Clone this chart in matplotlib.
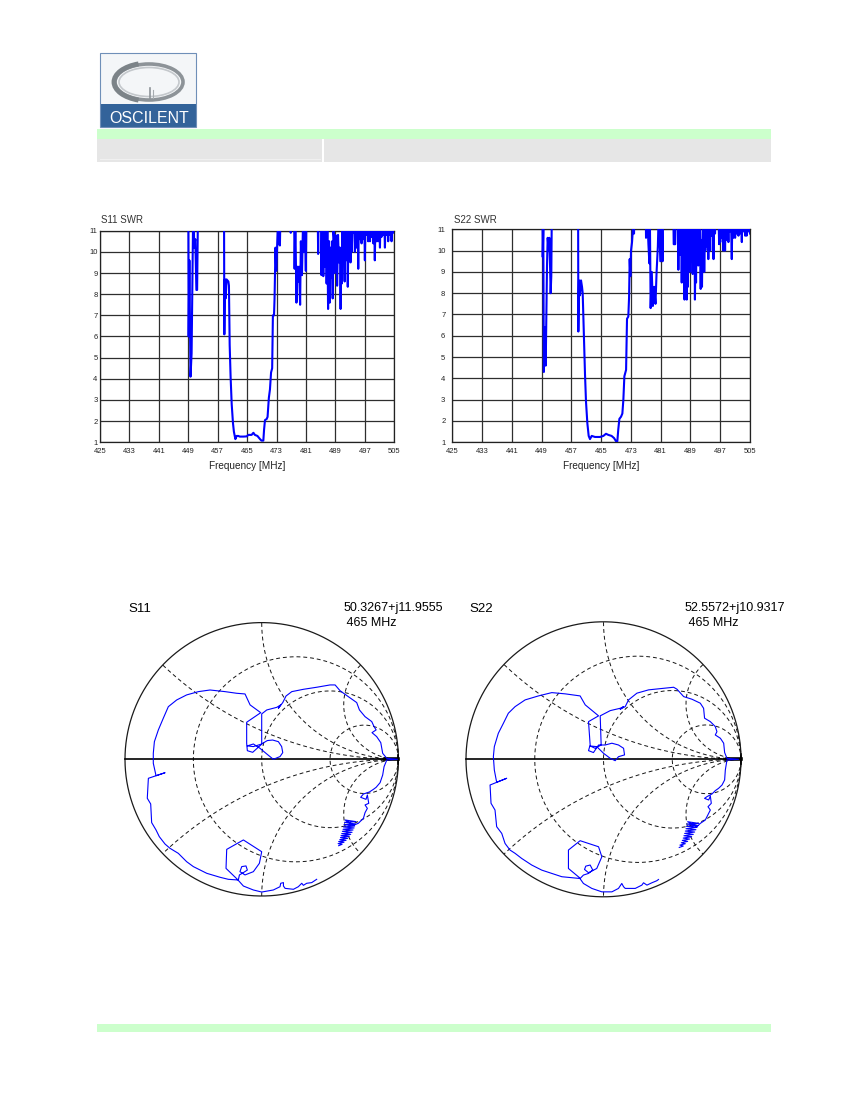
import numpy as np
import matplotlib
matplotlib.use('Agg')
import matplotlib.pyplot as plt
from matplotlib.patches import Rectangle, Ellipse, Arc
from matplotlib import font_manager

# ---------------- data ----------------
swr_xticks = [425, 433, 441, 449, 457, 465, 473, 481, 489, 497, 505]
swr_yticks = [1, 2, 3, 4, 5, 6, 7, 8, 9, 10, 11]

s11_freq = [425.0, 449.0, 449.1, 449.3, 449.6, 449.9, 450.1, 450.4, 450.6, 450.9, 451.2, 451.4, 451.7,
            458.7, 458.8, 458.95, 459.15, 459.4, 459.9, 460.05, 460.25, 460.5, 460.8, 461.15, 461.4,
            461.8, 462.15, 462.6, 463.0, 464.0, 464.9, 465.3, 466.2, 466.7, 467.1, 467.8, 468.5, 468.9,
            469.4, 469.6, 469.85, 470.3, 470.55, 470.9, 471.2, 471.5, 471.8, 472.0, 472.3, 472.45, 472.7,
            472.9, 473.1, 473.35, 473.6, 473.9, 474.2,
            476.7, 476.85, 477.0,
            477.7, 477.9, 478.1, 478.4, 478.6, 478.9, 479.1, 479.4, 479.6, 479.9, 480.2, 480.4, 480.6,
            480.95, 481.2,
            484.1, 484.3, 484.5,
            485.0, 485.2, 485.45, 485.7, 485.9, 486.1, 486.35, 486.6, 486.8, 487.0, 487.15, 487.3, 487.45,
            487.7, 487.95, 488.1, 488.25, 488.45, 488.6, 488.8, 489.0, 489.3, 489.45, 489.7, 489.95, 490.1,
            490.25, 490.4, 490.55, 490.7, 490.85, 490.95, 491.15, 491.3, 491.5, 491.7, 491.85, 492.05,
            492.2, 492.35, 492.55, 492.75, 492.95, 493.1, 493.3, 493.45, 493.65, 493.8, 494.0, 494.3,
            494.5, 494.75, 495.0, 495.2, 495.4, 495.65, 495.85, 496.1, 496.3, 496.55, 496.8, 497.0, 497.2,
            497.45, 497.7, 497.9, 498.1, 498.4, 498.6, 498.8, 499.05, 499.3, 499.5, 499.7, 499.95, 500.2,
            500.4, 500.6, 500.85, 501.1, 501.3, 501.5, 501.75, 502.0, 502.2, 502.45, 502.7, 502.9, 503.1,
            503.35, 503.55, 503.8, 504.05, 504.25, 504.5, 504.7, 505.0]
s11_swr = [13, 13, 6.0, 9.6, 4.1, 5.2, 8.5, 13, 10.2, 10.6, 8.2, 8.2, 13,
           13, 6.1, 8.7, 7.8, 8.7, 8.6, 8.4, 5.6, 4.1, 2.8, 1.9, 1.5,
           1.15, 1.3, 1.3, 1.27, 1.27, 1.28, 1.35, 1.35, 1.45, 1.35, 1.3, 1.15, 1.08,
           1.08, 1.6, 2.05, 2.1, 2.2, 3.1, 3.5, 4.3, 4.5, 7.0, 7.0, 7.8, 10.2,
           9.1, 10.1, 11.2, 10.4, 10.3, 13,
           13, 10.9, 13,
           13, 9.2, 11.5, 7.6, 9.3, 8.6, 9.3, 7.5, 10.5, 8.9, 11.5, 10.0, 12,
           9.1, 13,
           13, 9.9, 13,
           13, 8.9, 12, 8.85, 11, 9.3, 12, 8.5, 11, 7.3, 10.5, 10.5, 7.6,
           10.2, 8.8, 10.5, 7.8, 11, 10.7, 9.0, 10.8, 10.4, 8.4, 10.8, 9.5, 10.2,
           10.2, 7.3, 10.0, 8.5, 11, 9.6, 11, 10.0, 8.6, 11, 9.6, 12,
           11, 8.35, 11, 10.0, 12, 9.5, 11.5, 10.0, 12, 10.9, 12, 10.0,
           12, 10.2, 12, 9.2, 12, 10.6, 12, 10.4, 12, 10.6, 12, 9.6, 12,
           10.8, 12, 10.5, 12, 10.5, 12, 10.7, 12, 10.4, 12, 9.6, 12, 10.5,
           12, 10.5, 12, 10.2, 12, 10.7, 12, 10.8, 12, 10.2, 12, 10.8, 12,
           10.5, 12, 10.8, 12, 10.5, 12, 10.9, 12]

s22_freq = [425.0, 449.2, 449.3, 449.45, 449.6, 449.9, 450.1, 450.27, 450.45, 450.63, 450.9, 451.07,
            451.25, 451.43, 451.6, 451.8,
            458.8, 458.87, 459.05, 459.32, 459.59, 459.86, 460.04, 460.2, 460.4, 460.66, 460.93, 461.29,
            461.65, 462.0, 462.46, 463.35, 464.7, 465.6, 466.3, 466.9, 467.8, 468.46, 469.0, 469.35, 469.6,
            469.9, 470.34, 470.7, 470.97, 471.24, 471.7, 471.95, 472.3, 472.5, 472.67, 472.85, 473.03,
            473.3, 473.57, 473.84, 474.0,
            476.9, 477.06, 477.3, 477.7, 477.96, 478.1, 478.3, 478.6, 478.9, 479.25, 479.6, 479.9, 480.24,
            480.5, 480.9, 481.25, 481.5, 481.7,
            484.3, 484.5, 484.9, 485.1,
            485.5, 485.75, 486.0, 486.2, 486.45, 486.65, 486.9, 487.1, 487.25, 487.4, 487.5, 487.6, 487.8,
            488.0, 488.15, 488.3, 488.4, 488.5, 488.7, 488.9, 489.1, 489.25, 489.4, 489.6, 489.8, 489.96,
            490.1, 490.2, 490.35, 490.5, 490.65, 490.8, 490.95, 491.1, 491.25, 491.4, 491.55, 491.75,
            491.9, 492.1, 492.3, 492.5, 492.6, 492.7, 492.85, 493.0, 493.2, 493.4, 493.6, 493.8, 494.0,
            494.3, 494.5, 494.7, 494.95, 495.2, 495.4, 495.6, 495.85, 496.5, 496.7, 496.85, 497.0, 497.2,
            497.4, 497.6, 497.85, 498.05, 498.3, 498.5, 498.7, 498.95, 499.2, 499.4, 499.6, 499.85, 500.1,
            500.3, 500.5, 500.75, 501.0, 501.2, 501.4, 501.65, 501.9, 502.1, 502.3, 502.55, 502.8, 503.0,
            503.2, 503.45, 503.7, 503.9, 504.1, 504.35, 504.6, 504.8, 505.0]
s22_swr = [13, 13, 9.7, 11, 4.3, 6.4, 4.6, 7.0, 9.3, 10.6, 10.0, 10.6,
           9.4, 8.0, 8.8, 13,
           13, 6.2, 8.6, 7.9, 8.6, 8.3, 8.0, 7.0, 5.7, 4.2, 2.9, 1.9,
           1.3, 1.15, 1.3, 1.25, 1.25, 1.3, 1.4, 1.35, 1.3, 1.2, 1.05, 1.05, 1.6,
           2.1, 2.2, 2.35, 3.0, 4.1, 4.4, 6.8, 6.9, 7.8, 9.6, 8.8, 10.0,
           10.4, 11.1, 10.8, 13,
           13, 10.6, 12, 10.3, 9.4, 11.5, 7.3, 9.0, 7.4, 8.3, 7.5, 9.0, 10.2,
           12, 9.5, 12, 9.5, 13,
           13, 10.3, 10.3, 13,
           13, 9.1, 12, 9.8, 12, 8.5, 12, 10.0, 11, 7.7, 10.5, 9.7, 11,
           7.7, 10.0, 8.3, 11, 10.2, 11, 9.0, 11, 9.6, 11, 8.9, 11, 9.6,
           11, 7.7, 10.0, 8.5, 11, 9.9, 11, 9.3, 11, 10.3, 11, 8.2,
           10.5, 8.3, 11.5, 10.2, 11, 9.0, 11, 10.0, 12, 10.2, 12, 9.6, 12,
           10.0, 12, 10.7, 12, 9.6, 12, 10.8, 12, 12, 10.3, 12, 10.4, 12,
           10.6, 12, 10.0, 12, 10.0, 12, 10.5, 12, 10.4, 12, 10.9, 12, 9.6,
           12, 10.6, 12, 10.6, 12, 10.8, 12, 10.7, 12, 10.8, 12, 10.4, 12,
           10.9, 12, 10.7, 12, 10.7, 12, 10.9, 12, 10.8]

# reflection coefficient traces (real / imaginary part of Gamma)
s11_re = [0.402, 0.366, 0.329, 0.305, 0.293, 0.268, 0.232, 0.171, 0.159, 0.159,
          0.139, 0.134, 0.085, 0.0, -0.061, -0.134, -0.178, -0.261, -0.256, -0.134,
          0.0, -0.017, -0.061, -0.122, -0.159, -0.146, -0.115, -0.105, -0.134, -0.163,
          -0.171, -0.244, -0.305, -0.402, -0.5, -0.549, -0.610, -0.671, -0.707, -0.749,
          -0.773, -0.805, -0.812, -0.837, -0.829, -0.707, -0.773, -0.793, -0.793, -0.785,
          -0.756, -0.720, -0.683, -0.622, -0.549, -0.463, -0.378, -0.329, -0.268, -0.183,
          -0.122, -0.085, -0.007, -0.110, -0.110, -0.105, -0.066, 0.007, 0.041, 0.080,
          0.122, 0.146, 0.154, 0.134, 0.085, 0.037, -0.012, -0.061, -0.105, -0.061,
          0.0, 0.0, 0.037, 0.110, 0.139, 0.122, 0.154, 0.178, 0.220, 0.305,
          0.402, 0.5, 0.537, 0.573, 0.627, 0.695, 0.715, 0.756, 0.805, 0.822,
          0.837, 0.807, 0.841, 0.871, 0.885, 0.915, 0.993, 0.915, 0.895, 0.885,
          0.866, 0.837, 0.817, 0.788, 0.744, 0.724, 0.763, 0.773, 0.783, 0.756,
          0.773, 0.756, 0.744, 0.707, 0.671,
          0.610, 0.690, 0.605, 0.685, 0.602, 0.680, 0.598, 0.676, 0.595, 0.668,
          0.590, 0.661, 0.585, 0.651, 0.580, 0.641, 0.576, 0.629, 0.571, 0.617,
          0.563, 0.602, 0.559, 0.588, 0.563]
s11_im = [-0.878, -0.902, -0.907, -0.922, -0.907, -0.932, -0.951, -0.944, -0.927, -0.902,
          -0.907, -0.932, -0.956, -0.971, -0.956, -0.927, -0.878, -0.798, -0.659, -0.590,
          -0.676, -0.761, -0.822, -0.846, -0.822, -0.785, -0.780, -0.810, -0.829, -0.846,
          -0.883, -0.878, -0.863, -0.834, -0.785, -0.749, -0.688, -0.651, -0.620, -0.566,
          -0.517, -0.463, -0.327, -0.285, -0.139, -0.098, -0.120, -0.029, 0.044, 0.129,
          0.215, 0.300, 0.385, 0.434, 0.471, 0.495, 0.507, 0.502, 0.495, 0.483,
          0.478, 0.398, 0.341, 0.271, 0.117, 0.063, 0.051, 0.117, 0.137, 0.141,
          0.129, 0.093, 0.049, 0.020, 0.0, 0.039, 0.080, 0.112, 0.098, 0.093,
          0.112, 0.332, 0.361, 0.380, 0.398, 0.373, 0.415, 0.463, 0.495, 0.512,
          0.527, 0.544, 0.544, 0.502, 0.463, 0.415, 0.361, 0.312, 0.276, 0.239,
          0.215, 0.195, 0.166, 0.122, 0.044, 0.007, 0.0, -0.005, -0.054, -0.115,
          -0.171, -0.205, -0.220, -0.239, -0.254, -0.278, -0.293, -0.261, -0.322, -0.334,
          -0.359, -0.390, -0.432, -0.468, -0.483,
          -0.444, -0.456, -0.461, -0.473, -0.478, -0.488, -0.495, -0.502, -0.512, -0.517,
          -0.527, -0.534, -0.544, -0.549, -0.559, -0.563, -0.573, -0.578, -0.588, -0.593,
          -0.602, -0.607, -0.617, -0.622, -0.632]

s22_re = [0.400, 0.388, 0.352, 0.316, 0.291, 0.279, 0.231, 0.158, 0.146, 0.133,
          0.109, 0.061, -0.012, -0.085, -0.146, -0.177, -0.255, -0.255, -0.170, -0.036,
          -0.012, -0.049, -0.109, -0.138, -0.129, -0.097, -0.078, -0.109, -0.146, -0.170,
          -0.255, -0.303, -0.376, -0.449, -0.522, -0.595, -0.643, -0.680, -0.716, -0.740,
          -0.777, -0.789, -0.818, -0.825, -0.704, -0.777, -0.794, -0.801, -0.794, -0.765,
          -0.728, -0.692, -0.643, -0.570, -0.473, -0.376, -0.279, -0.170, -0.133, -0.036,
          -0.109, -0.097, -0.109, -0.073, -0.036, 0.012, 0.061, 0.109, 0.146, 0.153,
          0.109, 0.085, 0.049, 0.0, -0.049, -0.097, -0.061, -0.017, -0.024, 0.049,
          0.121, 0.146, 0.121, 0.158, 0.182, 0.243, 0.328, 0.425, 0.510, 0.534,
          0.583, 0.643, 0.704, 0.728, 0.735, 0.777, 0.813, 0.825, 0.813, 0.850,
          0.874, 0.881, 0.898, 0.983, 0.898, 0.886, 0.881, 0.862, 0.837, 0.813,
          0.789, 0.752, 0.735, 0.765, 0.777, 0.784, 0.760, 0.777, 0.740, 0.704,
          0.680,
          0.612, 0.692, 0.607, 0.687, 0.604, 0.680, 0.600, 0.672, 0.595, 0.663,
          0.590, 0.653, 0.585, 0.641, 0.580, 0.626, 0.573, 0.612, 0.566, 0.595,
          0.556, 0.580, 0.551]
s22_im = [-0.874, -0.883, -0.898, -0.915, -0.898, -0.915, -0.939, -0.939, -0.927, -0.903,
          -0.939, -0.964, -0.964, -0.939, -0.903, -0.859, -0.794, -0.660, -0.592, -0.636,
          -0.709, -0.794, -0.825, -0.801, -0.777, -0.769, -0.806, -0.830, -0.842, -0.867,
          -0.859, -0.854, -0.830, -0.806, -0.769, -0.721, -0.684, -0.660, -0.612, -0.539,
          -0.490, -0.369, -0.320, -0.187, -0.138, -0.167, -0.078, 0.019, 0.092, 0.189,
          0.262, 0.335, 0.383, 0.432, 0.461, 0.485, 0.476, 0.461, 0.396, 0.316,
          0.274, 0.104, 0.063, 0.049, 0.104, 0.104, 0.117, 0.104, 0.080, 0.032,
          0.019, -0.010, 0.007, 0.044, 0.092, 0.097, 0.080, 0.104, 0.316, 0.354,
          0.371, 0.383, 0.364, 0.383, 0.432, 0.481, 0.505, 0.515, 0.524, 0.510,
          0.456, 0.437, 0.408, 0.371, 0.299, 0.274, 0.238, 0.201, 0.177, 0.153,
          0.117, 0.049, 0.007, 0.0, -0.005, -0.078, -0.150, -0.187, -0.211, -0.228,
          -0.252, -0.272, -0.284, -0.296, -0.267, -0.320, -0.345, -0.369, -0.442, -0.466,
          -0.490,
          -0.454, -0.466, -0.471, -0.481, -0.488, -0.495, -0.505, -0.512, -0.522, -0.529,
          -0.539, -0.546, -0.556, -0.563, -0.573, -0.580, -0.590, -0.597, -0.607, -0.614,
          -0.624, -0.631, -0.641]

smith_r = [1 / 3, 1.0, 3.0]
smith_x = [0.4, 1.0, 2.5]

s11_marker = "50.3267+j11.9555"
s22_marker = "52.5572+j10.9317"
marker_freq = " 465 MHz"

# ---------------- figure ----------------
plt.rcParams['font.family'] = ['Liberation Sans', 'DejaVu Sans']
W, H = 850, 1100
fig = plt.figure(figsize=(8.5, 11), dpi=100)
fig.patch.set_facecolor('white')

page = fig.add_axes([0, 0, 1, 1])
page.set_xlim(0, W)
page.set_ylim(H, 0)
page.axis('off')


def px_axes(left, top, width, height):
    return fig.add_axes([left / W, 1 - (top + height) / H, width / W, height / H])


# ---- header: logo and bars ----
page.add_patch(Rectangle((100, 52.5), 96.5, 74.5, facecolor='#F4F6F8', edgecolor='none'))
page.add_patch(Rectangle((100, 104), 96.5, 23, facecolor='#33639A', edgecolor='none'))
page.add_patch(Rectangle((100, 52.5), 96.5, 74.5, facecolor='none', edgecolor='#6F8FB8', lw=0.8))
page.add_patch(Ellipse((149, 82), 68, 36, facecolor='none', edgecolor='#8D9398', lw=2.6))
page.add_patch(Ellipse((149, 82), 60, 29, facecolor='none', edgecolor='#C4C8CC', lw=1.2))
page.add_patch(Arc((149, 82), 70, 38, theta1=120, theta2=240, edgecolor='#7C8388', lw=3.5))
page.plot([150.5, 150.5], [88, 100], color='#8D9398', lw=1.2)
page.plot([153, 153], [90, 98], color='#A7ACB0', lw=0.8)

names = {f.name for f in font_manager.fontManager.ttflist}
if 'Liberation Sans Narrow' in names:
    page.text(148.7, 123, 'OSCILENT', color='white', fontsize=14, family=['Liberation Sans Narrow'],
              ha='center', va='baseline')
else:
    page.text(148.7, 123, 'OSCILENT', color='white', fontsize=11.5, ha='center', va='baseline')

page.add_patch(Rectangle((97, 129), 674, 9.5, facecolor='#CCFFCC', edgecolor='none'))
page.add_patch(Rectangle((97, 138.5), 225, 23, facecolor='#E6E6E6', edgecolor='none'))
page.add_patch(Rectangle((324, 138.5), 447, 23, facecolor='#E6E6E6', edgecolor='none'))
page.plot([100, 320], [158.5, 158.5], color='#F0F0F0', lw=0.8)
page.add_patch(Rectangle((97, 1024), 674, 8, facecolor='#CCFFCC', edgecolor='none'))


# ---- SWR panels ----
def swr_panel(left, top, right, bottom, freq, swr, title, ypad):
    ax = px_axes(left, top, right - left, bottom - top)
    ax.set_axisbelow(True)
    ax.plot(freq, swr, color='#0000FF', lw=1.5, zorder=3)
    ax.set_xlim(swr_xticks[0], swr_xticks[-1])
    ax.set_ylim(swr_yticks[0], swr_yticks[-1])
    ax.set_xticks(swr_xticks)
    ax.set_yticks(swr_yticks)
    ax.grid(True, color='#2E2E2E', lw=0.9)
    ax.tick_params(length=0, labelsize=5.5, colors='#222222', pad=4)
    ax.tick_params(axis='y', pad=ypad)
    for s in ax.spines.values():
        s.set_color('#222222')
        s.set_linewidth(0.9)
    page.text(left + 1.5, 223.3, title, fontsize=7, color='#333333', ha='left', va='baseline')
    page.text((left + right) / 2, 469, 'Frequency [MHz]', fontsize=7.2, color='#222222',
              ha='center', va='baseline')
    return ax


swr_panel(100, 230.7, 394.3, 442.3, s11_freq, s11_swr, 'S11 SWR', 1.8)
swr_panel(452.3, 229.3, 750, 442.3, s22_freq, s22_swr, 'S22 SWR', 5)


# ---- Smith charts ----
def smith_panel(cx, cy, R, re, im, name, marker, nx):
    half = 1.1
    ax = px_axes(cx - half * R, cy - half * R, 2 * half * R, 2 * half * R)
    ax.set_xlim(-half, half)
    ax.set_ylim(-half, half)
    ax.set_aspect('equal')
    ax.axis('off')
    ax.patch.set_alpha(0)
    t = np.linspace(0, 2 * np.pi, 2001)
    dash = (0, (4, 3))
    for r in smith_r:
        c = r / (1 + r)
        rad = 1 / (1 + r)
        ax.plot(c + rad * np.cos(t), rad * np.sin(t), ls=dash, color='#151515', lw=0.7)
    for x in smith_x:
        for sgn in (1, -1):
            px = 1 + np.cos(t) / x
            py = sgn / x + np.sin(t) / x
            m = px ** 2 + py ** 2 > 1.0
            px = np.where(m, np.nan, px)
            py = np.where(m, np.nan, py)
            ax.plot(px, py, ls=dash, color='#151515', lw=0.7)
    ax.plot(np.cos(t), np.sin(t), color='#1A1A1A', lw=0.9)
    ax.plot([-1, 1], [0, 0], color='black', lw=1.2)
    ax.plot([0.9, 1.0], [0, 0], color='black', lw=2.6)
    ax.plot([1.0, 1.0], [-0.035, 0.035], color='black', lw=1.2)
    ax.plot(re, im, color='#0000FF', lw=0.8, zorder=4)
    page.text(cx - R + 3, 611.5, name, fontsize=9.5, ha='left', va='baseline', color='black')
    page.text(nx, 611.5, marker, fontsize=9, ha='left', va='baseline', color='black')
    page.text(nx, 626, marker_freq, fontsize=9, ha='left', va='baseline', color='black')


smith_panel(261.7, 759.3, 136.7, s11_re, s11_im, 'S11', s11_marker, 343.3)
smith_panel(603.5, 759.3, 137.5, s22_re, s22_im, 'S22', s22_marker, 685.0)

fig.savefig('out.png', dpi=100, facecolor='white')
